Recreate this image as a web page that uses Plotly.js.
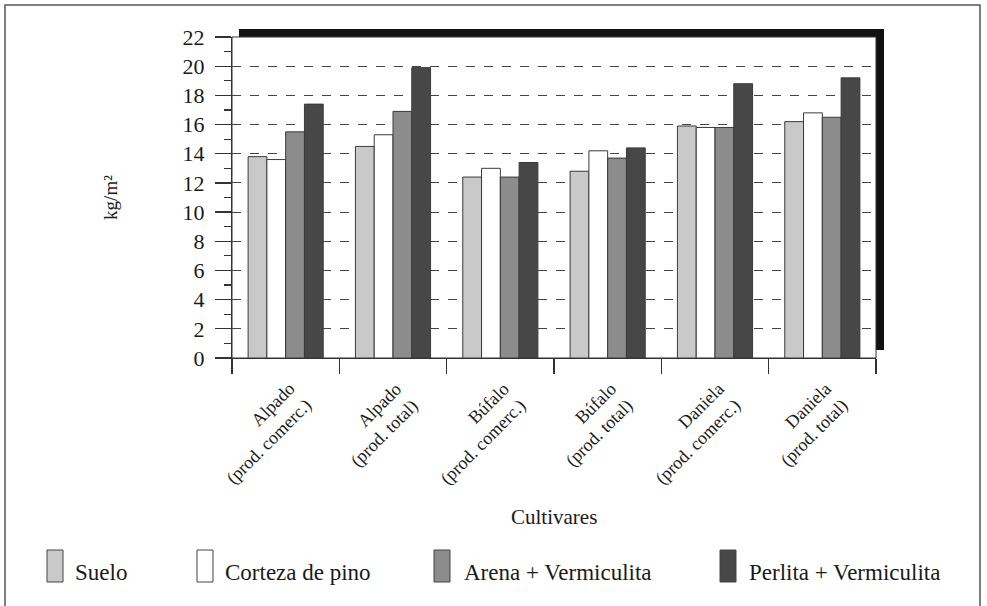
<!DOCTYPE html>
<html>
<head>
<meta charset="utf-8">
<script src="https://cdn.plot.ly/plotly-3.0.1.min.js"></script>
<style>html,body{margin:0;padding:0;background:#fff;}#chart{width:987px;height:606px;}</style>
</head>
<body>
<div id="chart"></div>
<script>
var categories = ["Alpado (prod. comerc.)", "Alpado (prod. total)", "Búfalo (prod. comerc.)", "Búfalo (prod. total)", "Daniela (prod. comerc.)", "Daniela (prod. total)"];
var tickLabels = ["Alpado<br>(prod. comerc.)", "Alpado<br>(prod. total)", "Búfalo<br>(prod. comerc.)", "Búfalo<br>(prod. total)", "Daniela<br>(prod. comerc.)", "Daniela<br>(prod. total)"];
var seriesNames = ["Suelo", "Corteza de pino", "Arena + Vermiculita", "Perlita + Vermiculita"];
var suelo   = [13.8, 14.5, 12.4, 12.8, 15.9, 16.2];
var corteza = [13.6, 15.3, 13.0, 14.2, 15.8, 16.8];
var arena   = [15.5, 16.9, 12.4, 13.7, 15.8, 16.5];
var perlita = [17.4, 19.9, 13.4, 14.4, 18.8, 19.2];
var yTickVals = [0, 2, 4, 6, 8, 10, 12, 14, 16, 18, 20, 22];
var xTitle = "Cultivares";
var yTitle = "kg/m²";

var colors = ["#c9c9c9", "#ffffff", "#8c8c8c", "#474747"];
var values = [suelo, corteza, arena, perlita];
var FONT = "Liberation Serif";
var TXT = "#1a1a1a";

var W = 987, H = 606, L = 232, R = 876, T = 37, B = 358;
function px(x) { return (x - L) / (R - L); }
function py(y) { return (B - y) / (B - T); }

var traces = values.map(function (v, i) {
  return {
    type: "bar", x: categories, y: v, name: seriesNames[i],
    marker: { color: colors[i], line: { color: "#3a3a3a", width: 1 } },
    showlegend: false
  };
});

var shapes = [
  { type: "rect", xref: "paper", yref: "paper", x0: px(5), x1: px(980), y0: py(640), y1: py(5),
    line: { color: "#555", width: 1.5 }, fillcolor: "rgba(0,0,0,0)", layer: "below" },
  { type: "rect", xref: "paper", yref: "paper", x0: px(239), x1: px(884), y0: py(350), y1: py(29),
    line: { width: 0 }, fillcolor: "#111", layer: "below" },
  { type: "rect", xref: "paper", yref: "paper", x0: 0, x1: 1, y0: 0, y1: 1,
    line: { color: "#333", width: 1 }, fillcolor: "#ffffff", layer: "below" }
];

var annotations = [];
categories.forEach(function (c, i) {
  annotations.push({ xref: "x", yref: "paper", x: c, y: py(376), xanchor: "right", yanchor: "top",
    xshift: 32, text: tickLabels[i], align: "right", textangle: -45, showarrow: false,
    font: { family: FONT, size: 18, color: TXT } });
});
annotations.push({ xref: "paper", yref: "paper", x: px(554), y: py(517), xanchor: "center", yanchor: "middle",
  text: xTitle, showarrow: false, font: { family: FONT, size: 21, color: TXT } });
var legendPos = [ {sx: 47, tx: 73}, {sx: 197, tx: 223}, {sx: 434, tx: 462}, {sx: 720, tx: 747} ];
legendPos.forEach(function (p, i) {
  shapes.push({ type: "rect", xref: "paper", yref: "paper", x0: px(p.sx), x1: px(p.sx + 16),
    y0: py(582), y1: py(550), fillcolor: colors[i], line: { color: "#444", width: 1 } });
  annotations.push({ xref: "paper", yref: "paper", x: px(p.tx), y: py(572), xanchor: "left", yanchor: "middle",
    text: seriesNames[i], showarrow: false, font: { family: FONT, size: 23, color: TXT } });
});

var layout = {
  width: W, height: H,
  margin: { l: L, r: W - R, t: T, b: H - B, pad: 0 },
  paper_bgcolor: "#ffffff", plot_bgcolor: "rgba(0,0,0,0)",
  font: { family: FONT, color: TXT },
  barmode: "group", bargap: 0.3, bargroupgap: 0,
  xaxis: {
    type: "category", range: [-0.5, 5.5], autorange: false,
    tickson: "boundaries", ticks: "outside", ticklen: 15, tickcolor: "#333", tickwidth: 1.2,
    showline: true, linecolor: "#333", linewidth: 1.2, showgrid: false, showticklabels: false,
    automargin: false, fixedrange: true
  },
  yaxis: {
    range: [0, 22], autorange: false, tickvals: yTickVals, ticks: "outside", ticklen: 16, tickcolor: "#333", tickwidth: 1.2,
    showline: true, linecolor: "#333", linewidth: 1.2, zeroline: false,
    showgrid: true, gridcolor: "#444", griddash: "dash", gridwidth: 1,
    minor: { dtick: 1, tick0: 0, ticks: "outside", ticklen: 7, tickcolor: "#333", tickwidth: 1.2, showgrid: false },
    ticklabelstandoff: 6,
    tickfont: { family: FONT, size: 22, color: TXT },
    title: { text: yTitle, font: { family: FONT, size: 19, color: TXT }, standoff: 59 },
    automargin: false, fixedrange: true
  },
  shapes: shapes,
  annotations: annotations
};

Plotly.newPlot("chart", traces, layout, { staticPlot: true, displayModeBar: false });
</script>
</body>
</html>
